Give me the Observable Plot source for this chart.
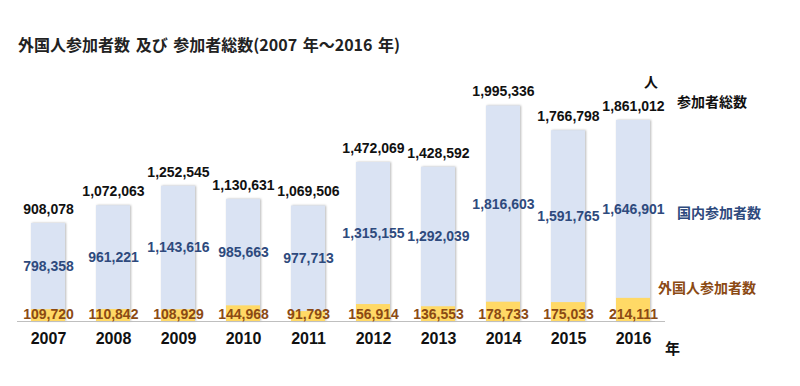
<!DOCTYPE html>
<html>
<head>
<meta charset="utf-8">
<script src="https://cdn.jsdelivr.net/npm/d3@7"></script>
<script src="https://cdn.jsdelivr.net/npm/@observablehq/plot@0.6"></script>
<style>
  html, body { margin: 0; padding: 0; background: #fff; }
  #wrap { position: relative; width: 800px; height: 386px; overflow: hidden;
          font-family: "Liberation Sans", Arial, "Noto Sans CJK JP", sans-serif; }
  #title { position: absolute; left: 18px; top: 36px; font-size: 16px; line-height: 1;
           font-weight: bold; word-spacing: 2px;
           font-family: "Noto Sans CJK JP", sans-serif; color: #222; white-space: pre; }
  #chart { position: absolute; left: 0; top: 70px; }
  .lg { position: absolute; font-family: "Noto Sans CJK JP", sans-serif; font-weight: bold;
        font-size: 14px; line-height: 1; white-space: pre; }
</style>
</head>
<body>
<div id="wrap">
  <div id="title">外国人参加者数 及び 参加者総数(2007 年～2016 年)</div>
  <div id="chart"></div>
  <div class="lg" style="left:644px; top:74px; color:#111;">人</div>
  <div class="lg" style="left:677px; top:94px; color:#111;">参加者総数</div>
  <div class="lg" style="left:677px; top:205px; color:#2e4a7d;">国内参加者数</div>
  <div class="lg" style="left:658px; top:280px; color:#8b4a14;">外国人参加者数</div>
  <div class="lg" style="left:665px; top:340px; color:#111; font-size:15px;">年</div>
</div>
<script>
const years = ["2007","2008","2009","2010","2011","2012","2013","2014","2015","2016"];
const totals = [908078,1072063,1252545,1130631,1069506,1472069,1428592,1995336,1766798,1861012];
const domestic = [798358,961221,1143616,985663,977713,1315155,1292039,1816603,1591765,1646901];
const foreign = [109720,110842,108929,144968,91793,156914,136553,178733,175033,214111];

const data = years.map((y, i) => ({year: y, total: totals[i], domestic: domestic[i], foreign: foreign[i]}));
const fmt = d3.format(",");
const numFont = '"Liberation Sans", Arial, sans-serif';

const chart = Plot.plot({
  width: 800,
  height: 316,
  marginLeft: 17,
  marginRight: 135,
  marginTop: 35,
  marginBottom: 65,
  x: {type: "band", domain: years, paddingInner: 0.475, paddingOuter: 0.216, axis: null},
  y: {domain: [0, 2000000], axis: null},
  marks: [
    Plot.barY(data, {x: "year", y: "total", fill: "#dae3f3"}),
    Plot.barY(data, {x: "year", y: "foreign", fill: "#ffd966"}),
    Plot.ruleY([0], {stroke: "#bfbfbf", strokeWidth: 1.2}),
    Plot.text(data, {x: "year", y: "total", text: d => fmt(d.total), dy: -14, lineAnchor: "middle",
      fontSize: 14, fontWeight: "bold", fill: "#111", fontFamily: numFont}),
    Plot.text(data, {x: "year", y: d => d.foreign + d.domestic / 2, text: d => fmt(d.domestic),
      lineAnchor: "middle", fontSize: 14, fontWeight: "bold", fill: "#2e4a7d", fontFamily: numFont}),
    Plot.text(data, {x: "year", y: () => 0, text: d => fmt(d.foreign), dy: -7, lineAnchor: "middle",
      fontSize: 14, fontWeight: "bold", fill: "#8b4a14", fontFamily: numFont}),
    Plot.axisX({tickSize: 0, tickPadding: 11, fontSize: 16, fontWeight: "bold", fill: "#111",
      fontFamily: numFont, label: null})
  ]
});
document.getElementById("chart").appendChild(chart);
// soft shadow on the bars, like the reference
const barGroups = chart.querySelectorAll('g[aria-label="bar"]');
if (barGroups[0]) barGroups[0].style.filter = "drop-shadow(1.5px 0.5px 1px rgba(0,0,0,0.28))";
</script>
</body>
</html>
